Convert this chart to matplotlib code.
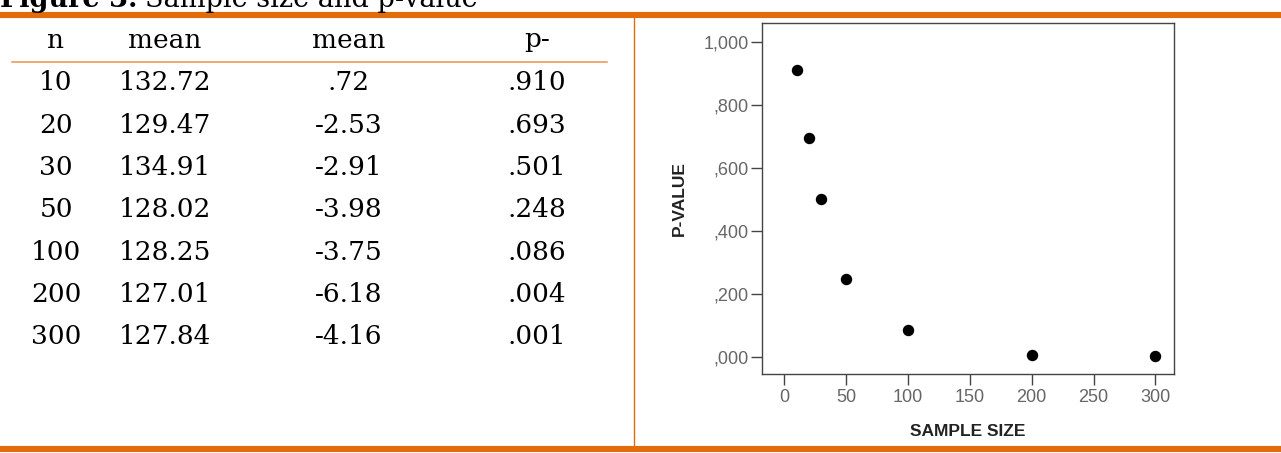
import matplotlib.pyplot as plt
from matplotlib.lines import Line2D

# data
n_vals = [10, 20, 30, 50, 100, 200, 300]
mean_txt = ["132.72", "129.47", "134.91", "128.02", "128.25", "127.01", "127.84"]
diff_txt = [".72", "-2.53", "-2.91", "-3.98", "-3.75", "-6.18", "-4.16"]
p_txt = [".910", ".693", ".501", ".248", ".086", ".004", ".001"]
p_vals = [0.910, 0.693, 0.501, 0.248, 0.086, 0.004, 0.001]
headers = ["n", "mean", "mean", "p-"]
y_ticks = [0.0, 0.2, 0.4, 0.6, 0.8, 1.0]
x_ticks = [0, 50, 100, 150, 200, 250, 300]

W, H = 1281, 453
orange = "#E36C0A"

fig = plt.figure(figsize=(W / 100, H / 100), dpi=100)
fig.patch.set_facecolor("white")

def fx(px):
    return px / W

def fy(py):
    return 1 - py / H

# title, cut off at the top like in the source
serif = "DejaVu Serif"
fig.text(fx(0), fy(7), "Figure 3.", fontsize=19.5, fontweight="bold",
         family=serif, va="baseline", ha="left")
fig.text(fx(145), fy(7), "Sample size and p-value", fontsize=19.5,
         family=serif, va="baseline", ha="left")

# orange frame lines
fig.add_artist(Line2D([0, 1], [fy(14.5), fy(14.5)], color=orange, lw=4.4))
fig.add_artist(Line2D([0, 1], [fy(448.5), fy(448.5)], color=orange, lw=4.4))
fig.add_artist(Line2D([fx(634), fx(634)], [fy(17), fy(446)], color=orange, lw=1.0))
fig.add_artist(Line2D([fx(12), fx(607)], [fy(62), fy(62)], color="#E9924A", lw=1.1))

# table
col_x = [56, 165, 349, 537]
for x, h in zip(col_x, headers):
    fig.text(fx(x), fy(40), h, fontsize=19, family=serif, ha="center", va="center")

row_y0, row_dy = 83, 42.3
for i in range(len(n_vals)):
    y = fy(row_y0 + i * row_dy)
    cells = [str(n_vals[i]), mean_txt[i], diff_txt[i], p_txt[i]]
    for x, c in zip(col_x, cells):
        fig.text(fx(x), y, c, fontsize=19, family=serif, ha="center", va="center")

# scatter plot
ax = fig.add_axes([fx(762), fy(374), (1174 - 762) / W, (374 - 23) / H])
ax.scatter(n_vals, p_vals, s=52, color="black", zorder=3)
ax.set_xlim(-18, 315)
ax.set_ylim(-0.055, 1.059)
ax.set_xticks(x_ticks)
ax.set_yticks(y_ticks)

def spss_fmt(v):
    s = f"{v:.3f}".replace(".", ",")
    return s if v >= 1 else s.lstrip("0")

ax.set_yticklabels([spss_fmt(v) for v in y_ticks])
for sp in ax.spines.values():
    sp.set_color("#444444")
    sp.set_linewidth(1.0)
ax.tick_params(axis="both", direction="out", length=8, width=1, color="#444444",
               labelcolor="#666666", labelsize=13)
ax.tick_params(axis="y", pad=1.5)
ax.tick_params(axis="x", pad=3)
for lab in ax.get_xticklabels() + ax.get_yticklabels():
    lab.set_family("Liberation Sans")
ax.set_xlabel("SAMPLE SIZE", fontsize=12.5, fontweight="bold", family="Liberation Sans",
              color="#222222", labelpad=13)
ax.set_ylabel("P-VALUE", fontsize=12.5, fontweight="bold", family="Liberation Sans",
              color="#222222", labelpad=12)

fig.savefig("out.png", dpi=100, facecolor="white")
